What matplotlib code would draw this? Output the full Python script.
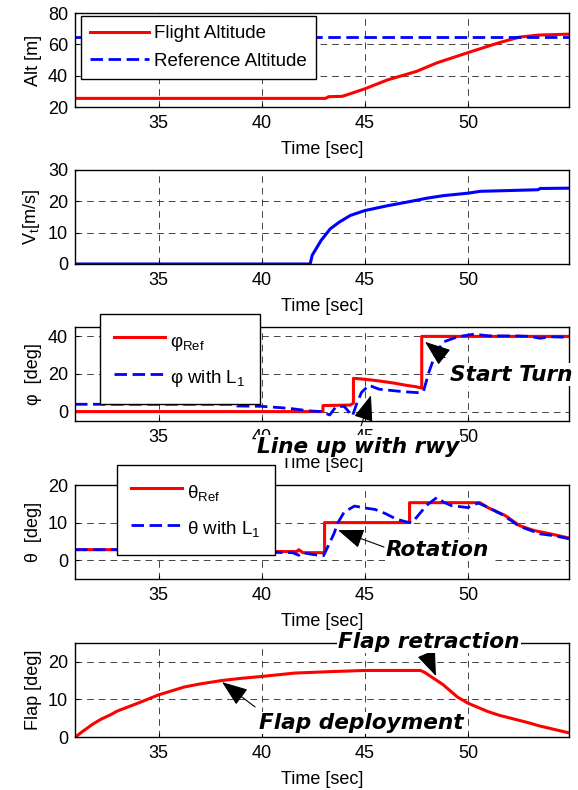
import matplotlib
matplotlib.use("Agg")
import matplotlib.pyplot as plt

plt.rcParams['font.family'] = ['Liberation Sans', 'DejaVu Sans']
plt.rcParams['mathtext.fontset'] = 'custom'
plt.rcParams['mathtext.rm'] = 'Liberation Sans'
plt.rcParams['mathtext.it'] = 'Liberation Sans:italic'

# ---------------- data ----------------
t_alt = [30.95, 43.1, 43.25, 43.9, 44.3, 45.0, 46.1, 47.5, 48.5, 50.0, 51.5, 52.5, 53.4, 54.9]
alt_flight = [25.5, 25.5, 26.6, 26.8, 28.5, 31.6, 37.3, 42.7, 48.2, 54.7, 61.0, 64.6, 65.9, 66.5]
t_ref_alt = [30.95, 54.9]
alt_ref = [65, 65]

t_vt = [30.95, 42.35, 42.45, 42.88, 43.32, 43.77, 44.3, 45.0, 46.1, 47.0, 48.05, 48.8,
        50.0, 50.6, 52.3, 53.4, 53.5, 54.9]
vt = [0, 0, 2.8, 7.5, 11.2, 13.4, 15.5, 17.05, 18.6, 19.7, 21.05, 21.8,
      22.6, 23.2, 23.5, 23.7, 24.1, 24.2]

t_phi_ref = [30.95, 42.97, 42.97, 44.3, 44.45, 44.45, 45.0, 45.7, 46.45, 47.0, 47.5, 47.76, 47.76, 54.9]
phi_ref = [0, 0, 3.2, 3.5, 4.5, 17.7, 17.2, 16.3, 15.1, 14.0, 13.2, 12.5, 40, 40]

t_phi_l1 = [30.95, 38.7, 38.8, 40.0, 40.9, 41.5, 42.3, 42.9, 43.3, 43.6, 44.0, 44.4, 44.6, 44.84,
            45.2, 45.7, 46.5, 47.0, 47.7, 47.85, 48.1, 48.4, 48.8, 49.5, 50.3, 51.0, 52.5,
            53.0, 53.5, 54.0, 54.9]
phi_l1 = [3.9, 3.9, 3.0, 2.8, 2.1, 1.5, 0.4, 0.0, -1.8, 2.6, 2.8, -2.3, 4.0, 10.2,
          14.0, 11.9, 11.0, 10.5, 10.0, 11.0, 20.7, 30.0, 37.0, 39.8, 41.2, 40.3, 40.2,
          40.0, 39.0, 39.8, 39.5]

t_theta_ref = [30.95, 38.7, 39.0, 40.0, 41.7, 41.8, 42.0, 43.05, 43.05, 47.17, 47.17, 50.57,
               51.0, 51.8, 52.5, 53.2, 54.0, 54.9]
theta_ref = [2.8, 2.8, 2.5, 2.3, 2.3, 2.8, 2.0, 2.0, 10.0, 10.0, 15.3, 15.3,
             13.9, 11.9, 9.2, 7.9, 7.0, 5.9]

t_theta_l1 = [30.95, 38.7, 39.2, 39.5, 40.0, 40.3, 41.5, 41.8, 42.0, 42.5, 43.0, 43.2, 43.5,
              43.7, 44.0, 44.5, 45.0, 45.5, 46.0, 46.5, 47.0, 47.3, 47.6, 48.0, 48.5, 48.8,
              49.2, 50.0, 50.5, 51.0, 51.7, 52.5, 53.0, 53.5, 54.2, 54.9]
theta_l1 = [2.8, 2.8, 1.9, 3.0, 3.4, 2.1, 2.0, 1.3, 2.0, 1.5, 1.2, 3.5, 7.0,
            10.0, 12.8, 14.4, 13.9, 13.5, 12.4, 11.0, 10.2, 10.0, 12.0, 14.6, 16.7, 15.5,
            14.5, 14.0, 15.2, 14.0, 12.0, 9.0, 8.0, 7.0, 6.5, 5.7]

t_flap = [30.97, 31.3, 31.78, 32.2, 32.67, 33.0, 33.57, 34.0, 35.0, 36.25, 37.0, 38.04, 39.0,
          40.0, 41.6, 42.5, 43.4, 45.0, 47.7, 47.9, 48.8, 49.2, 49.5, 50.0, 50.95, 51.5,
          52.36, 53.0, 53.43, 54.2, 54.9]
flap = [0, 1.4, 3.3, 4.7, 5.9, 6.9, 8.1, 9.0, 11.2, 13.3, 14.1, 15.0, 15.6,
        16.1, 17.0, 17.2, 17.4, 17.7, 17.7, 17.2, 13.9, 12.0, 10.6, 9.0, 6.8, 5.8,
        4.6, 3.7, 3.0, 2.0, 1.1]

xticks = [35, 40, 45, 50]
xlim = (30.95, 54.9)

# ---------------- figure ----------------
W, H = 578, 790
fig = plt.figure(figsize=(W / 100, H / 100), dpi=100)

def make_ax(top, h=94):
    return fig.add_axes([75 / W, 1 - (top + h) / H, 494 / W, h / H])

RED = '#ff0000'
BLUE = '#0000ff'
FS = 13

def style(ax, ylim, yticks, ylabel):
    ax.set_xlim(*xlim)
    ax.set_ylim(*ylim)
    ax.set_xticks(xticks)
    ax.set_yticks(yticks)
    ax.grid(True, color='0.15', linestyle=(0, (8, 6)), linewidth=0.6)
    ax.tick_params(direction='in', length=3, labelsize=FS, width=0.8)
    ax.tick_params(axis='x', pad=6)
    ax.tick_params(axis='y', pad=5)
    ax.set_xlabel('Time [sec]', fontsize=FS, labelpad=6)
    ax.set_ylabel(ylabel, fontsize=FS, labelpad=4)
    for s in ax.spines.values():
        s.set_linewidth(1.0)

dash = (0, (4.5, 2))

def legend(ax, x0, y0, **kw):
    leg = ax.legend(loc='upper left', bbox_to_anchor=(x0 / W, 1 - y0 / H),
                    bbox_transform=fig.transFigure, borderaxespad=0,
                    fancybox=False, framealpha=1, edgecolor='black', **kw)
    leg.get_frame().set_linewidth(1.0)
    leg.set_zorder(10)
    return leg

ann_font = dict(family='DejaVu Sans', fontweight='bold', fontstyle='oblique', fontsize=15.6)
bbox_w = dict(facecolor='white', edgecolor='none', pad=1.0)

def arrow(ax, head, tail):
    ax.annotate('', xy=head, xytext=tail, annotation_clip=False,
                arrowprops=dict(arrowstyle='-|>,head_length=0.85,head_width=0.32',
                                color='black', lw=0.8, mutation_scale=19,
                                shrinkA=0, shrinkB=0), zorder=6)

# Axis 1: altitude
ax1 = make_ax(13)
ax1.plot(t_alt, alt_flight, color=RED, lw=2.2, label='Flight Altitude')
ax1.plot(t_ref_alt, alt_ref, color=BLUE, lw=2.0, linestyle=dash, label='Reference Altitude')
style(ax1, (20, 80), [20, 40, 60, 80], 'Alt [m]')
legend(ax1, 81, 16, fontsize=13.5, handlelength=3.1, handletextpad=0.3,
       borderpad=0.5, labelspacing=0.55)

# Axis 2: velocity
ax2 = make_ax(170)
ax2.plot(t_vt, vt, color=BLUE, lw=2.2)
style(ax2, (0, 30), [0, 10, 20, 30], 'V$_{\\mathregular{t}}$[m/s]')

# Axis 3: roll
ax3 = make_ax(327)
ax3.plot(t_phi_ref, phi_ref, color=RED, lw=2.2, label='φ$_{\\mathregular{Ref}}$')
ax3.plot(t_phi_l1, phi_l1, color=BLUE, lw=2.0, linestyle=dash, label='φ with L$_{\\mathregular{1}}$')
style(ax3, (-5, 45), [0, 20, 40], 'φ  [deg]')
legend(ax3, 100, 314, fontsize=13.5, handlelength=2.7, handletextpad=0.3,
       borderpad=0.75, labelspacing=0.6, handleheight=1.7)
ax3.text(49.13, 19.7, 'Start Turn', va='center', ha='left', clip_on=False, zorder=7,
         bbox=bbox_w, **ann_font)
arrow(ax3, (47.92, 37.1), (48.89, 28.7))
ax3.text(39.77, -18.7, 'Line up with rwy', va='center', ha='left', clip_on=False, zorder=7,
         bbox=bbox_w, **ann_font)
arrow(ax3, (45.30, 8.7), (44.82, -7.6))

# Axis 4: pitch
ax4 = make_ax(485)
ax4.plot(t_theta_ref, theta_ref, color=RED, lw=2.2, label='θ$_{\\mathregular{Ref}}$')
ax4.plot(t_theta_l1, theta_l1, color=BLUE, lw=2.0, linestyle=dash, label='θ with L$_{\\mathregular{1}}$')
style(ax4, (-5, 20), [0, 10, 20], 'θ  [deg]')
legend(ax4, 117, 465, fontsize=13.5, handlelength=2.7, handletextpad=0.3,
       borderpad=0.75, labelspacing=0.6, handleheight=1.7)
ax4.text(46.03, 2.7, 'Rotation', va='center', ha='left', clip_on=False, zorder=7,
         bbox=bbox_w, **ann_font)
arrow(ax4, (43.7, 8.0), (45.93, 3.5))

# Axis 5: flap
ax5 = make_ax(643)
ax5.plot(t_flap, flap, color=RED, lw=2.2)
style(ax5, (0, 25), [0, 10, 20], 'Flap [deg]')
ax5.text(43.7, 25.3, 'Flap retraction', va='center', ha='left', clip_on=False, zorder=7,
         bbox=bbox_w, **ann_font)
arrow(ax5, (48.45, 16.2), (48.02, 21.8))
ax5.text(39.87, 3.7, 'Flap deployment', va='center', ha='left', clip_on=False, zorder=7,
         bbox=bbox_w, **ann_font)
arrow(ax5, (38.08, 14.6), (39.68, 8.0))

fig.savefig('out.png', dpi=100)
